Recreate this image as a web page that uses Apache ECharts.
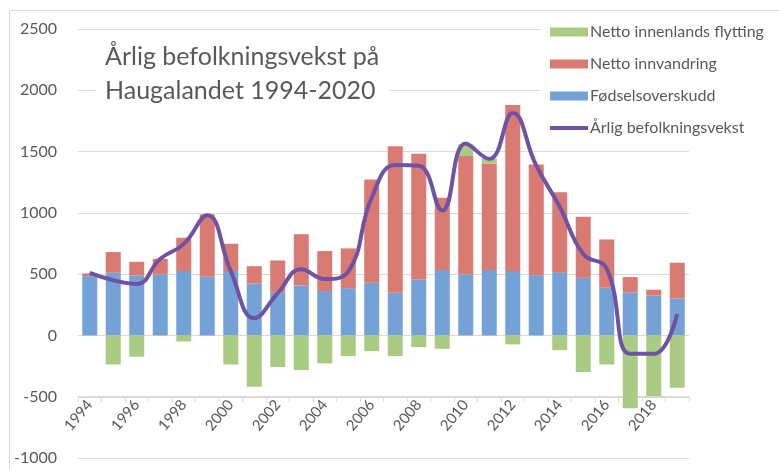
<!DOCTYPE html>
<html>
<head>
<meta charset="utf-8">
<script src="https://cdn.jsdelivr.net/npm/echarts@6/dist/echarts.min.js"></script>
<style>html,body{margin:0;padding:0;background:#fff;}#c{width:779px;height:469px;}</style>
</head>
<body>
<div id="c"></div>
<script>
const years = ['1994','1995','1996','1997','1998','1999','2000','2001','2002','2003','2004','2005','2006','2007','2008','2009','2010','2011','2012','2013','2014','2015','2016','2017','2018','2019'];
const fodselsoverskudd = [484,511,489,497,525,479,525,424,353,408,362,386,430,348,457,533,497,533,525,492,516,470,389,350,326,302];
const nettoInnvandring = [22,169,112,128,272,508,223,141,259,418,326,324,842,1196,1025,590,966,870,1354,903,653,498,394,126,47,291];
const nettoInnenlands = [0,-237,-174,0,-49,0,-237,-419,-258,-283,-228,-169,-128,-169,-95,-109,95,41,-73,0,-120,-299,-237,-594,-495,-427];
const arligVekst = [510,450,420,625,745,980,525,140,345,540,460,520,1125,1390,1385,1020,1565,1440,1815,1385,1050,665,545,-150,-150,175];
const yTicks = {min:-1000, max:2500, interval:500};

const txt = '#595959';
const font = 'Lato';
const chart = echarts.init(document.getElementById('c'));
chart.setOption({
  animation:false,
  backgroundColor:'#fff',
  textStyle:{fontFamily:font},
  graphic:[{type:'rect', shape:{x:9.5,y:10.5,width:820,height:520}, style:{fill:'none',stroke:'#d9d9d9',lineWidth:1}, z:-1}],
  title:{
    text:'Årlig befolkningsvekst på\nHaugalandet 1994-2020',
    left:95, top:36,
    backgroundColor:'#fff',
    padding:[4,10,6,10],
    textStyle:{fontFamily:font,fontSize:25,fontWeight:'normal',color:txt,lineHeight:34,align:'center'}
  },
  legend:{
    orient:'vertical', left:540, top:18,
    backgroundColor:'#fff',
    padding:[6,10,6,10],
    itemWidth:38, itemHeight:9, itemGap:16,
    textStyle:{fontFamily:font,fontSize:16,color:txt,padding:[0,0,0,-3]},
    data:[
      {name:'Netto innenlands flytting', icon:'rect'},
      {name:'Netto innvandring', icon:'rect'},
      {name:'Fødselsoverskudd', icon:'rect'},
      {name:'Årlig befolkningsvekst', icon:'path://M0,0L38,0L38,0.01Z M0,2.5L38,2.5L38,6.5L0,6.5Z M0,9L38,9L38,9.01Z'}
    ]
  },
  grid:[
    {left:78, right:90, top:29, bottom:11, containLabel:false, outerBoundsMode:'none'},
    {left:78, right:90, top:29, bottom:72, containLabel:false, outerBoundsMode:'none'}
  ],
  xAxis:[{
    type:'category', data:years, gridIndex:0,
    axisLine:{show:false}, axisTick:{show:false}, axisLabel:{show:false}, splitLine:{show:false}
  },{
    type:'category', data:years, gridIndex:1, position:'bottom', z:0,
    axisLine:{onZero:false, lineStyle:{color:'#d9d9d9',width:1}},
    axisTick:{show:true, interval:0, length:5, lineStyle:{color:'#d9d9d9'}},
    axisLabel:{interval:1, rotate:50, fontSize:15, color:txt, fontFamily:font, margin:5},
    splitLine:{show:false}
  }],
  yAxis:[{
    type:'value', gridIndex:0, min:yTicks.min, max:yTicks.max, interval:yTicks.interval,
    axisLine:{show:false}, axisTick:{show:false},
    axisLabel:{fontSize:16, color:txt, fontFamily:font, margin:21, formatter:function(v){return String(v);}},
    splitLine:{lineStyle:{color:'#d9d9d9',width:1}}
  },{
    type:'value', gridIndex:1, min:0, max:1, show:false, splitLine:{show:false}
  }],
  series:[
    {name:'Fødselsoverskudd', type:'bar', stack:'s', z:3, data:fodselsoverskudd, barWidth:15, itemStyle:{color:'#74a2d7'}},
    {name:'Netto innvandring', type:'bar', stack:'s', z:3, data:nettoInnvandring, barWidth:15, itemStyle:{color:'#d97a73'}},
    {name:'Netto innenlands flytting', type:'bar', stack:'s', z:3, data:nettoInnenlands, barWidth:15, itemStyle:{color:'#a9cc82'}},
    {name:'Årlig befolkningsvekst', type:'line', data:arligVekst, smooth:0.45, symbol:'none', z:5,
     lineStyle:{color:'#7052a5', width:4}, itemStyle:{color:'#7052a5'}}
  ]
});
</script>
</body>
</html>
